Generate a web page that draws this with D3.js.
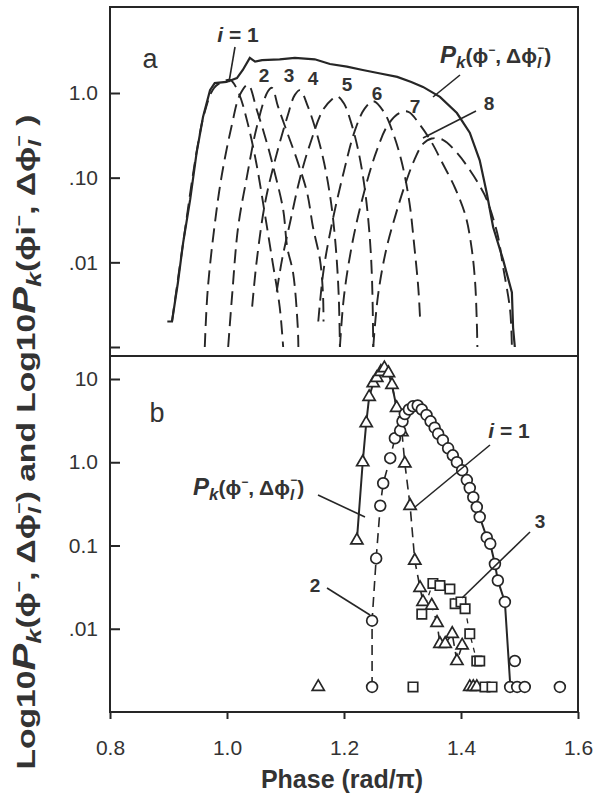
<!DOCTYPE html>
<html lang="en">
<head>
<meta charset="UTF-8">
<title>Phase distributions</title>
<script src="https://cdn.jsdelivr.net/npm/d3@7/dist/d3.min.js"></script>
<style>
  body { margin: 0; background: #fff; }
  text { font-family: "Liberation Sans", Arial, Helvetica, sans-serif; fill: #333; }
</style>
</head>
<body>
<svg id="chart" width="595" height="801"></svg>
<script>
// ---- data (phase in rad/pi, probability) ----
const xTicks = [0.8, 1.0, 1.2, 1.4, 1.6];
const yTicksA = [1, 0.1, 0.01, 0.001];
const yTickLabelsA = ["1.0", ".10", ".01", ""];
const yTicksB = [10, 1, 0.1, 0.01];
const yTickLabelsB = ["10", "1.0", "0.1", ".01"];

// panel a: envelope Pk and the partial curves i = 1..8
const envelopeA = [[0.898,0.002],[0.906,0.002],[0.916,0.0057],[0.925,0.017],[0.937,0.055],[0.948,0.196],[0.959,0.52],[0.971,1.08],[0.979,1.31],[0.999,1.35],[1.017,1.5],[1.027,1.87],[1.039,2.6],[1.048,2.35],[1.060,2.45],[1.090,2.5],[1.116,2.6],[1.150,2.5],[1.176,2.2],[1.205,2.05],[1.232,1.87],[1.262,1.7],[1.291,1.55],[1.315,1.35],[1.335,1.18],[1.364,0.9],[1.393,0.58],[1.415,0.34],[1.432,0.16],[1.444,0.066],[1.455,0.026],[1.472,0.0107],[1.487,0.0044],[1.489,0.0017],[1.492,0.001]];
const curveA1 = [[0.906,0.002],[0.925,0.017],[0.948,0.2],[0.962,0.6],[0.978,1.15],[0.995,1.38],[1.006,1.42],[1.020,1.0],[1.035,0.45],[1.050,0.15],[1.064,0.04],[1.078,0.01],[1.090,0.003],[1.096,0.001]];
const curveA2 = [[0.962,0.001],[0.967,0.0047],[0.979,0.028],[0.991,0.106],[1.008,0.41],[1.022,0.95],[1.036,1.25],[1.051,0.63],[1.068,0.26],[1.079,0.134],[1.096,0.042],[1.103,0.015],[1.113,0.0075],[1.121,0.0017],[1.122,0.001]];
const curveA3 = [[1.002,0.001],[1.009,0.0043],[1.019,0.026],[1.034,0.102],[1.051,0.4],[1.070,1.05],[1.077,1.15],[1.087,0.7],[1.103,0.34],[1.120,0.16],[1.137,0.066],[1.147,0.026],[1.159,0.0107],[1.164,0.0043],[1.165,0.002]];
const curveA4 = [[1.043,0.003],[1.051,0.0107],[1.065,0.05],[1.082,0.16],[1.103,0.52],[1.116,0.95],[1.125,1.08],[1.138,0.7],[1.152,0.36],[1.166,0.15],[1.178,0.05],[1.186,0.015],[1.191,0.004],[1.193,0.001]];
const curveA5 = [[1.085,0.0045],[1.094,0.0107],[1.108,0.03],[1.125,0.1],[1.142,0.25],[1.164,0.63],[1.180,0.85],[1.188,0.92],[1.200,0.75],[1.212,0.45],[1.225,0.2],[1.236,0.07],[1.244,0.02],[1.248,0.006],[1.250,0.001]];
const curveA6 = [[1.156,0.002],[1.165,0.008],[1.180,0.03],[1.200,0.12],[1.218,0.35],[1.235,0.65],[1.250,0.8],[1.268,0.6],[1.285,0.32],[1.300,0.14],[1.312,0.05],[1.320,0.016],[1.327,0.005],[1.330,0.0022]];
const curveA7 = [[1.193,0.001],[1.200,0.004],[1.215,0.018],[1.235,0.07],[1.255,0.2],[1.275,0.42],[1.295,0.58],[1.310,0.6],[1.330,0.42],[1.350,0.26],[1.368,0.15],[1.390,0.075],[1.408,0.035],[1.418,0.015],[1.424,0.006],[1.427,0.002],[1.428,0.001]];
const curveA8 = [[1.250,0.001],[1.258,0.004],[1.272,0.014],[1.290,0.04],[1.305,0.085],[1.320,0.16],[1.335,0.25],[1.350,0.29],[1.369,0.28],[1.395,0.19],[1.415,0.123],[1.432,0.08],[1.444,0.055],[1.462,0.022],[1.472,0.0088],[1.484,0.0027],[1.487,0.001]];
const curvesA = [curveA1, curveA2, curveA3, curveA4, curveA5, curveA6, curveA7, curveA8];

// panel b: i = 1 (triangles), i = 2 (circles), i = 3 (squares)
const tri1B = [[1.222,0.115],[1.232,1.0],[1.238,2.95],[1.243,6.1],[1.250,8.9],[1.256,10.3],[1.263,12.2],[1.269,13.5],[1.276,11.8],[1.282,8.5],[1.290,4.5],[1.299,2.3],[1.304,0.97],[1.313,0.3],[1.321,0.066],[1.330,0.031],[1.335,0.021],[1.350,0.019],[1.359,0.0118],[1.364,0.0066],[1.373,0.0066],[1.385,0.0087],[1.393,0.0041],[1.402,0.0063]];
const circ2B = [[1.248,0.0125],[1.255,0.07],[1.262,0.3],[1.267,0.56],[1.279,1.12],[1.287,1.94],[1.296,2.4],[1.300,3.1],[1.304,3.8],[1.311,4.3],[1.318,4.7],[1.326,4.8],[1.333,4.3],[1.341,3.7],[1.348,3.1],[1.355,2.6],[1.361,2.2],[1.369,1.84],[1.378,1.47],[1.386,1.21],[1.393,1.0],[1.402,0.8],[1.410,0.61],[1.415,0.49],[1.421,0.38],[1.427,0.29],[1.432,0.22],[1.444,0.125],[1.450,0.105],[1.458,0.06],[1.463,0.038],[1.475,0.021],[1.492,0.0041]];
const sq3B = [[1.333,0.015],[1.352,0.035],[1.364,0.033],[1.381,0.03],[1.390,0.02],[1.400,0.021],[1.407,0.0174],[1.415,0.0087],[1.427,0.0041],[1.432,0.0041]];
const pkEndB = [[1.484,0.0022]];
// points with zero counts, drawn on the bottom row
const zeroLevel = 0.002;
const zeroTriB = [1.156, 1.415, 1.421, 1.427];
const zeroCircB = [1.248, 1.484, 1.496, 1.509, 1.569];
const zeroSqB = [1.318, 1.441, 1.453];

// ---- layout ----
const svg = d3.select("#chart");
const ink = "#262626";
const left = 110, right = 578, topA = 7, midY = 356, bottomB = 712;

const x = d3.scaleLinear().domain([0.8, 1.6]).range([left, right]);
const yA = d3.scaleLog().domain([0.001, 1]).range([347, 93]);
const yB = d3.scaleLog().domain([0.001, 10]).range([bottomB, 379]);

svg.append("clipPath").attr("id", "clipA")
  .append("rect").attr("x", left).attr("y", topA).attr("width", right - left).attr("height", midY - topA);
svg.append("clipPath").attr("id", "clipB")
  .append("rect").attr("x", left).attr("y", midY).attr("width", right - left).attr("height", bottomB - midY);

// frames
[[topA, midY], [midY, bottomB]].forEach(([t, b]) => {
  svg.append("rect").attr("x", left).attr("y", t).attr("width", right - left).attr("height", b - t)
    .attr("fill", "none").attr("stroke", ink).attr("stroke-width", 2);
});

function styleAxis(g, size) {
  g.select(".domain").remove();
  g.selectAll("line").attr("stroke", ink).attr("stroke-width", 2);
  g.selectAll("text").attr("font-size", size).attr("fill", "#333").attr("font-family", null);
}

svg.append("g").attr("transform", `translate(${left},0)`)
  .call(d3.axisLeft(yA).tickValues(yTicksA).tickFormat((d, i) => yTickLabelsA[i])
    .tickSizeInner(-10).tickSizeOuter(0).tickPadding(12))
  .call(g => styleAxis(g, 21));

svg.append("g").attr("transform", `translate(${left},0)`)
  .call(d3.axisLeft(yB).tickValues(yTicksB).tickFormat((d, i) => yTickLabelsB[i])
    .tickSizeInner(-10).tickSizeOuter(0).tickPadding(12))
  .call(g => styleAxis(g, 21));

svg.append("g").attr("transform", `translate(0,${bottomB})`)
  .call(d3.axisBottom(x).tickValues(xTicks).tickFormat(d3.format(".1f"))
    .tickSizeInner(7).tickSizeOuter(0).tickPadding(21))
  .call(g => styleAxis(g, 21));

// ---- panel a ----
const gA = svg.append("g").attr("clip-path", "url(#clipA)");
const lineA = d3.line().x(d => x(d[0])).y(d => yA(d[1]));
const dashA = d3.line().x(d => x(d[0])).y(d => yA(d[1])).curve(d3.curveCatmullRom.alpha(0.5));

gA.selectAll("path.part").data(curvesA).join("path").attr("class", "part")
  .attr("d", dashA).attr("fill", "none").attr("stroke", ink)
  .attr("stroke-width", 1.9).attr("stroke-dasharray", "14,7");
gA.append("path").datum(envelopeA).attr("d", lineA)
  .attr("fill", "none").attr("stroke", ink).attr("stroke-width", 2.2);

// ---- panel b ----
const gB = svg.append("g").attr("clip-path", "url(#clipB)");
const lineB = d3.line().x(d => x(d[0])).y(d => yB(d[1]));
const pkEnvelopeB = tri1B.slice(0, 11).concat(circ2B.filter(d => d[0] >= 1.304 && d[0] < 1.48), pkEndB);

gB.append("path").datum([[zeroCircB[0], zeroLevel]].concat(circ2B.slice(0, 10))).attr("d", lineB)
  .attr("fill", "none").attr("stroke", ink).attr("stroke-width", 1.6).attr("stroke-dasharray", "10,6");
gB.append("path").datum(tri1B.slice(9)).attr("d", lineB)
  .attr("fill", "none").attr("stroke", ink).attr("stroke-width", 1.6).attr("stroke-dasharray", "10,6");
gB.append("path").datum(sq3B).attr("d", lineB)
  .attr("fill", "none").attr("stroke", ink).attr("stroke-width", 1.3).attr("stroke-dasharray", "5,5");
gB.append("path").datum(pkEnvelopeB).attr("d", lineB)
  .attr("fill", "none").attr("stroke", ink).attr("stroke-width", 2);

const triSym = d3.symbol(d3.symbolTriangle, 64);
const sqSym = d3.symbol(d3.symbolSquare, 88);

function markers(sel, data, kind) {
  if (kind === "circle") {
    sel.selectAll(null).data(data).join("circle")
      .attr("cx", d => x(d[0])).attr("cy", d => yB(d[1])).attr("r", 5.4)
      .attr("fill", "#fff").attr("stroke", ink).attr("stroke-width", 1.7);
  } else {
    sel.selectAll(null).data(data).join("path")
      .attr("d", kind === "tri" ? triSym : sqSym)
      .attr("transform", d => `translate(${x(d[0])},${yB(d[1])})`)
      .attr("fill", "#fff").attr("stroke", ink).attr("stroke-width", 1.7);
  }
}
markers(gB, tri1B, "tri");
markers(gB, sq3B, "sq");
markers(gB, circ2B, "circle");
markers(gB, zeroTriB.map(p => [p, zeroLevel]), "tri");
markers(gB, zeroSqB.map(p => [p, zeroLevel]), "sq");
markers(gB, zeroCircB.map(p => [p, zeroLevel]), "circle");

// ---- labels ----
function rich(px, py, parts, size, opts = {}) {
  const t = svg.append("text").attr("x", px).attr("y", py)
    .attr("font-size", size).attr("font-weight", "bold")
    .attr("text-anchor", opts.anchor || "start");
  if (opts.transform) t.attr("transform", opts.transform);
  parts.forEach(p => {
    const s = t.append("tspan").text(p.t);
    if (p.it) s.attr("font-style", "italic");
    if (p.fs) s.attr("font-size", p.fs);
    if (p.dx) s.attr("dx", p.dx);
    if (p.dy) s.attr("dy", p.dy);
  });
  return t;
}
function leader(x1, y1, x2, y2) {
  svg.append("line").attr("x1", x1).attr("y1", y1).attr("x2", x2).attr("y2", y2)
    .attr("stroke", ink).attr("stroke-width", 1.6);
}
const pkParts = [
  { t: "P", it: 1, fs: 24 }, { t: "k", it: 1, fs: 17, dy: 5 }, { t: "(ϕ", dy: -5 },
  { t: "−", fs: 12, dy: -9 }, { t: ", Δϕ", dy: 9 }, { t: "l", it: 1, fs: 15, dy: 5 },
  { t: "−", fs: 12, dx: -4, dy: -16 }, { t: ")", dy: 11 }
];

svg.append("text").attr("x", 150).attr("y", 68).attr("text-anchor", "middle")
  .attr("font-size", 27).attr("fill", "#444").text("a");
svg.append("text").attr("x", 157).attr("y", 422).attr("text-anchor", "middle")
  .attr("font-size", 27).attr("fill", "#444").text("b");

// panel a annotations
rich(238, 42, [{ t: "i", it: 1 }, { t: " = 1" }], 21, { anchor: "middle" });
leader(235, 47, 229, 82);
const numLabelsA = ["2", "3", "4", "5", "6", "7", "8"];
const numPosA = [[264, 82], [289, 82], [313, 85], [347, 91], [377, 100], [415, 113], [489, 110]];
numLabelsA.forEach((s, i) => {
  svg.append("text").attr("x", numPosA[i][0]).attr("y", numPosA[i][1]).attr("text-anchor", "middle")
    .attr("font-size", 19).attr("font-weight", "bold").text(s);
});
leader(476, 111, 423, 138);
rich(440, 63, pkParts, 21);
leader(460, 75, 433, 97);

// panel b annotations
rich(509, 438, [{ t: "i", it: 1 }, { t: " = 1" }], 21, { anchor: "middle" });
leader(490, 445, 415, 507);
rich(193, 495, pkParts, 21);
leader(318, 495, 365, 517);
svg.append("text").attr("x", 315).attr("y", 592).attr("text-anchor", "middle")
  .attr("font-size", 19).attr("font-weight", "bold").text("2");
leader(327, 588, 370, 615);
svg.append("text").attr("x", 540).attr("y", 528).attr("text-anchor", "middle")
  .attr("font-size", 19).attr("font-weight", "bold").text("3");
leader(530, 532, 462, 598);

// axis titles
svg.append("text").attr("x", 342).attr("y", 788).attr("text-anchor", "middle")
  .attr("font-size", 25).attr("font-weight", "bold").text("Phase (rad/π)");

const yTitle = rich(0, 0, [
  { t: "Log10" }, { t: "P", it: 1, fs: 31 }, { t: "k", it: 1, fs: 21, dy: 6 }, { t: "(ϕ", dy: -6 },
  { t: "−", fs: 15, dy: -11 }, { t: ", Δϕ", dy: 11 }, { t: "l", it: 1, fs: 19, dy: 6 },
  { t: "−", fs: 15, dx: -5, dy: -17 }, { t: ") and Log10", dy: 11 },
  { t: "P", it: 1, fs: 31 }, { t: "k", it: 1, fs: 21, dy: 6 }, { t: "(ϕi", dy: -6 },
  { t: "−", fs: 15, dy: -11 }, { t: ", Δϕ", dy: 11 }, { t: "l", it: 1, fs: 19, dy: 6 },
  { t: "−", fs: 15, dx: -5, dy: -17 }, { t: " )", dy: 11 }
], 26, { anchor: "middle", transform: "translate(35,442) rotate(-90)" });
yTitle.attr("textLength", 655).attr("lengthAdjust", "spacingAndGlyphs");
</script>
</body>
</html>
